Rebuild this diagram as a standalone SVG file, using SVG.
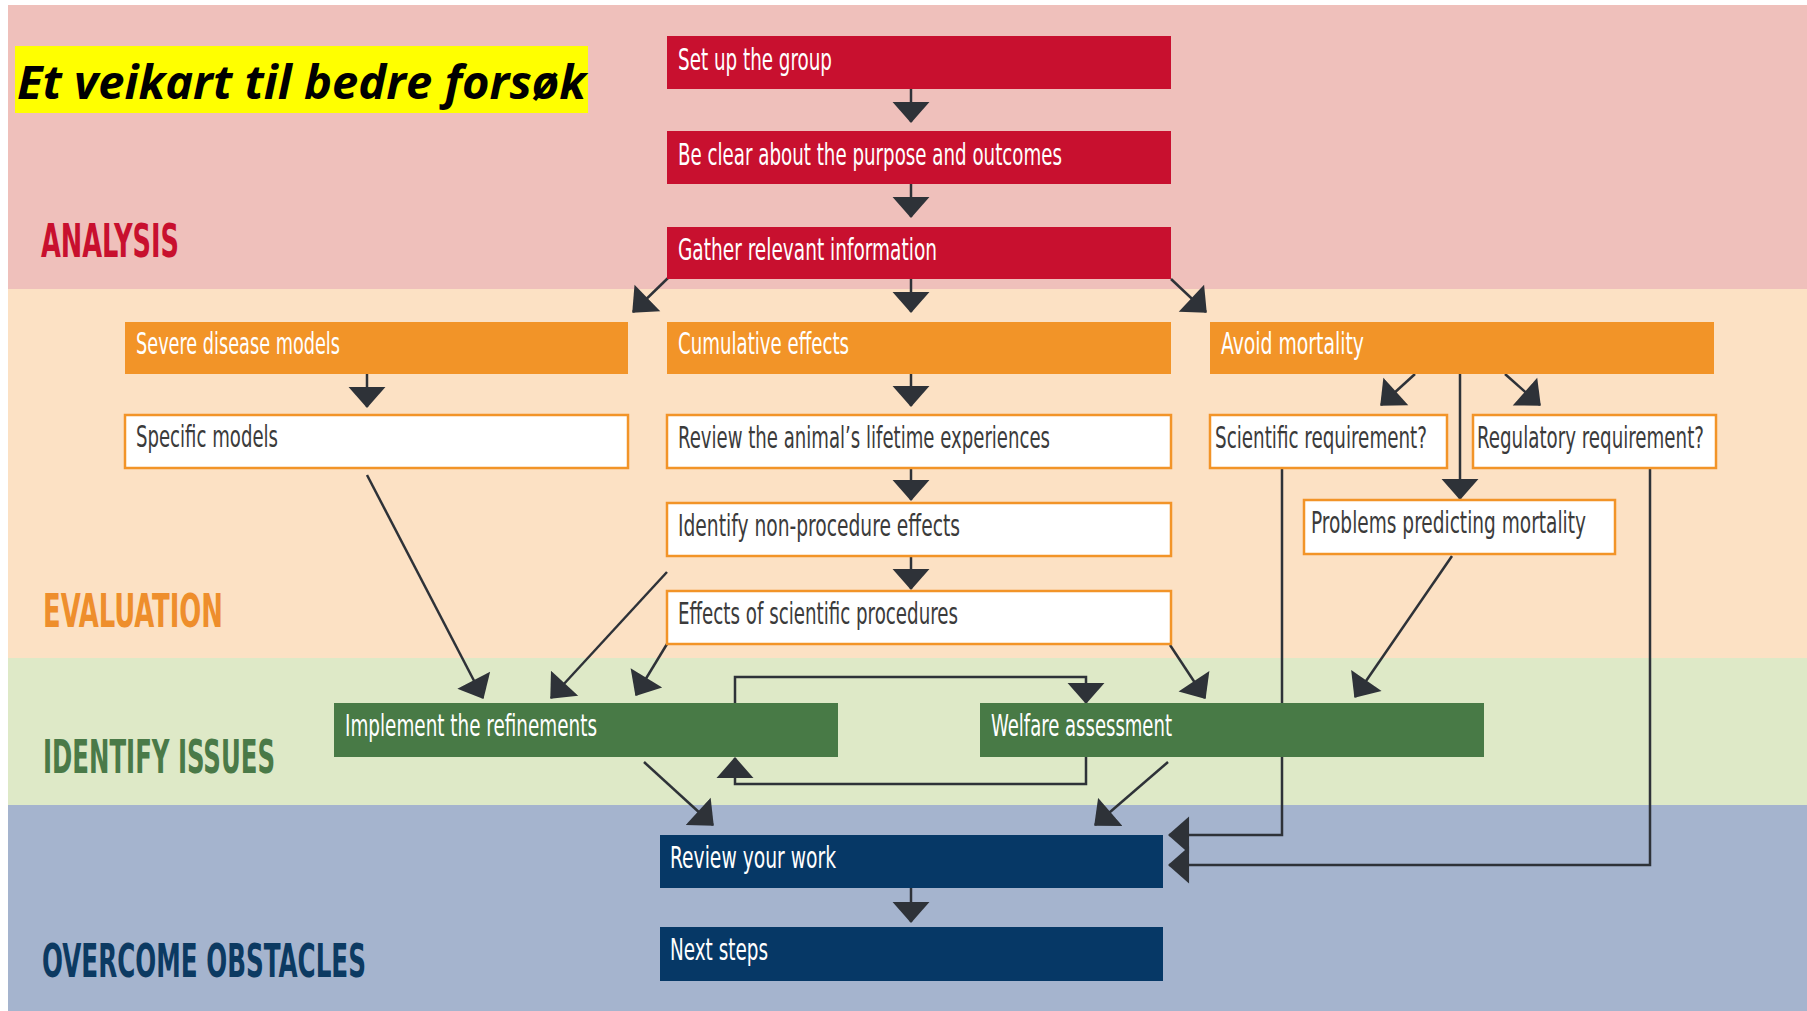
<svg xmlns="http://www.w3.org/2000/svg" width="1807" height="1011" viewBox="0 0 1807 1011">
  <defs>
    <style>
      .hdr{font-family:"Liberation Sans Narrow","DejaVu Sans Condensed","DejaVu Sans",sans-serif;font-weight:bold;font-size:46px}
      .lbl{font-family:"Liberation Sans Narrow","DejaVu Sans Condensed","DejaVu Sans",sans-serif;font-size:30px}
      .wt{fill:#ffffff}
      .dk{fill:#3b3b3b}
      .red{fill:#C8102F}
      .org{fill:#F29428}
      .grn{fill:#487A46}
      .navy{fill:#063866}
      .wbox{fill:#ffffff;stroke:#F29428;stroke-width:2.5}
      .c{fill:none;stroke:#2E3238;stroke-width:2.5;marker-end:url(#ah)}
    </style>
    <marker id="ah" markerUnits="userSpaceOnUse" markerWidth="22" markerHeight="38" viewBox="0 -18 20 36" refX="19" refY="0" orient="auto">
      <path d="M0,-17.5 L20,0 L0,17.5 Z" fill="#2E3238"/>
    </marker>
  </defs>

  <!-- background and phase bands -->
  <rect x="0" y="0" width="1807" height="1011" fill="#ffffff"/>
  <rect x="8" y="5" width="1799" height="284" fill="#EFC0BB"/>
  <rect x="8" y="289" width="1799" height="369" fill="#FCE1C4"/>
  <rect x="8" y="658" width="1799" height="147" fill="#DEE9C7"/>
  <rect x="8" y="805" width="1799" height="206" fill="#A5B4CE"/>

  <!-- title -->
  <g id="title">
    <rect x="15" y="46" width="573" height="67" fill="#FFFF00"/>
    <text x="17" y="99" font-family="'Open Sans','Noto Sans','DejaVu Sans',sans-serif" font-weight="bold" font-style="italic" font-size="46" fill="#000000" textLength="569" lengthAdjust="spacingAndGlyphs">Et veikart til bedre forsøk</text>
  </g>

  <!-- phase labels -->
  <g id="phase-labels">
    <text class="hdr" x="41" y="257" fill="#C8102E" textLength="138" lengthAdjust="spacingAndGlyphs">ANALYSIS</text>
    <text class="hdr" x="43" y="627" fill="#EE8E2C" textLength="180" lengthAdjust="spacingAndGlyphs">EVALUATION</text>
    <text class="hdr" x="43" y="773" fill="#4A7A48" textLength="232" lengthAdjust="spacingAndGlyphs">IDENTIFY ISSUES</text>
    <text class="hdr" x="42" y="977" fill="#0C3A62" textLength="324" lengthAdjust="spacingAndGlyphs">OVERCOME OBSTACLES</text>
  </g>

  <!-- connectors -->
  <g id="connectors">
    <path class="c" d="M911,89 V122"/>
    <path class="c" d="M911,184 V217"/>
    <path class="c" d="M911,279 V312"/>
    <path class="c" d="M668,278 L633,312"/>
    <path class="c" d="M1171,279 L1206,312"/>
    <path class="c" d="M367,374 V407"/>
    <path class="c" d="M911,374 V406"/>
    <path class="c" d="M911,468 V500"/>
    <path class="c" d="M911,556 V589"/>
    <path class="c" d="M1415,374 L1381,405"/>
    <path class="c" d="M1460,374 V499"/>
    <path class="c" d="M1505,374 L1540,405"/>
    <path class="c" d="M367,475 L483,698"/>
    <path class="c" d="M667,572 L551,698"/>
    <path class="c" d="M667,644 L636,695"/>
    <path class="c" d="M1170,645 L1205,698"/>
    <path class="c" d="M1452,556 L1355,697"/>
    <path class="c" d="M735,703 V677 H1086 V703"/>
    <path class="c" d="M1086,757 V784 H735 V758"/>
    <path class="c" d="M644,762 L713,825"/>
    <path class="c" d="M1168,762 L1095,825"/>
    <path class="c" d="M1282,468 V835 H1169"/>
    <path class="c" d="M1650,468 V865 H1169"/>
    <path class="c" d="M911,888 V922"/>
  </g>

  <!-- analysis steps -->
  <g id="setup">
    <rect class="red" x="667" y="36" width="504" height="53"/>
    <text class="lbl wt" x="678" y="70" textLength="154" lengthAdjust="spacingAndGlyphs">Set up the group</text>
  </g>
  <g id="purpose">
    <rect class="red" x="667" y="131" width="504" height="53"/>
    <text class="lbl wt" x="678" y="165" textLength="384" lengthAdjust="spacingAndGlyphs">Be clear about the purpose and outcomes</text>
  </g>
  <g id="gather">
    <rect class="red" x="667" y="227" width="504" height="52"/>
    <text class="lbl wt" x="678" y="260" textLength="259" lengthAdjust="spacingAndGlyphs">Gather relevant information</text>
  </g>

  <!-- evaluation steps -->
  <g id="severe">
    <rect class="org" x="125" y="322" width="503" height="52"/>
    <text class="lbl wt" x="136" y="354" textLength="204" lengthAdjust="spacingAndGlyphs">Severe disease models</text>
  </g>
  <g id="cumulative">
    <rect class="org" x="667" y="322" width="504" height="52"/>
    <text class="lbl wt" x="678" y="354" textLength="171" lengthAdjust="spacingAndGlyphs">Cumulative effects</text>
  </g>
  <g id="mortality">
    <rect class="org" x="1210" y="322" width="504" height="52"/>
    <text class="lbl wt" x="1221" y="354" textLength="143" lengthAdjust="spacingAndGlyphs">Avoid mortality</text>
  </g>
  <g id="specific">
    <rect class="wbox" x="125" y="415" width="503" height="53"/>
    <text class="lbl dk" x="136" y="447" textLength="142" lengthAdjust="spacingAndGlyphs">Specific models</text>
  </g>
  <g id="lifetime">
    <rect class="wbox" x="667" y="415" width="504" height="53"/>
    <text class="lbl dk" x="678" y="448" textLength="372" lengthAdjust="spacingAndGlyphs">Review the animal’s lifetime experiences</text>
  </g>
  <g id="scientific">
    <rect class="wbox" x="1210" y="415" width="237" height="53"/>
    <text class="lbl dk" x="1215" y="448" textLength="212" lengthAdjust="spacingAndGlyphs">Scientific requirement?</text>
  </g>
  <g id="regulatory">
    <rect class="wbox" x="1473" y="415" width="243" height="53"/>
    <text class="lbl dk" x="1477" y="448" textLength="227" lengthAdjust="spacingAndGlyphs">Regulatory requirement?</text>
  </g>
  <g id="nonprocedure">
    <rect class="wbox" x="667" y="503" width="504" height="53"/>
    <text class="lbl dk" x="678" y="536" textLength="282" lengthAdjust="spacingAndGlyphs">Identify non-procedure effects</text>
  </g>
  <g id="predicting">
    <rect class="wbox" x="1304" y="500" width="311" height="54"/>
    <text class="lbl dk" x="1311" y="533" textLength="275" lengthAdjust="spacingAndGlyphs">Problems predicting mortality</text>
  </g>
  <g id="procedures">
    <rect class="wbox" x="667" y="591" width="504" height="53"/>
    <text class="lbl dk" x="678" y="624" textLength="280" lengthAdjust="spacingAndGlyphs">Effects of scientific procedures</text>
  </g>

  <!-- issue steps -->
  <g id="implement">
    <rect class="grn" x="334" y="703" width="504" height="54"/>
    <text class="lbl wt" x="345" y="736" textLength="252" lengthAdjust="spacingAndGlyphs">Implement the refinements</text>
  </g>
  <g id="welfare">
    <rect class="grn" x="980" y="703" width="504" height="54"/>
    <text class="lbl wt" x="991" y="736" textLength="181" lengthAdjust="spacingAndGlyphs">Welfare assessment</text>
  </g>

  <!-- obstacle steps -->
  <g id="review">
    <rect class="navy" x="660" y="835" width="503" height="53"/>
    <text class="lbl wt" x="670" y="868" textLength="166" lengthAdjust="spacingAndGlyphs">Review your work</text>
  </g>
  <g id="next">
    <rect class="navy" x="660" y="927" width="503" height="54"/>
    <text class="lbl wt" x="670" y="960" textLength="98" lengthAdjust="spacingAndGlyphs">Next steps</text>
  </g>
</svg>
